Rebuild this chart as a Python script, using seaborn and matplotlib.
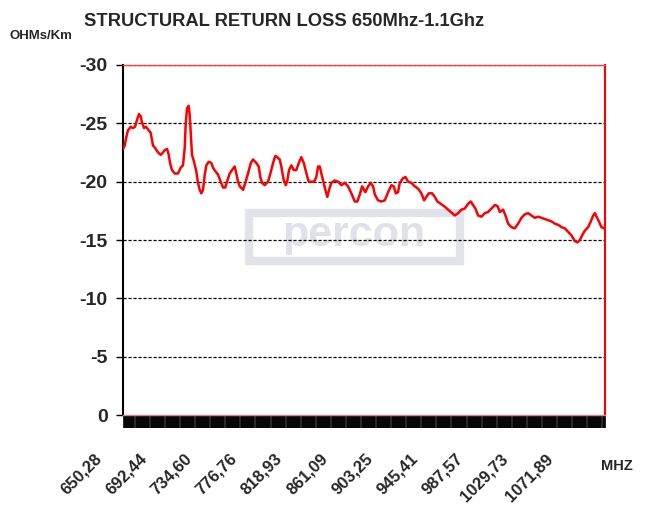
import matplotlib
matplotlib.use("Agg")
import matplotlib.pyplot as plt
import matplotlib.transforms as mtransforms
from matplotlib.patches import Rectangle
from matplotlib.ticker import MultipleLocator
import pandas as pd
import seaborn as sns

# frequency (MHz) and structural return loss
freq = [650.3, 651.9, 653.1, 654.9, 657.5, 659.6, 661.5, 663.4, 665.2, 666.8,
        668.0, 669.9, 671.8, 674.3, 676.1, 678.3, 680.2, 683.0, 685.5, 687.6,
        689.2, 691.4, 693.0, 694.2, 696.0, 698.6, 701.6, 704.2, 706.3, 707.9,
        708.8, 710.1, 711.6, 712.6, 713.5, 714.7, 716.6, 718.7, 720.3, 721.9,
        723.4, 725.0, 726.6, 728.1, 730.3, 732.8, 734.3, 736.5, 739.0, 741.5,
        743.7, 745.8, 747.7, 749.9, 752.1, 754.6, 756.1, 757.7, 759.3, 762.4,
        764.5, 767.0, 769.6, 771.7, 774.8, 777.0, 778.5, 780.1, 782.6, 785.7,
        787.9, 790.4, 792.5, 794.4, 796.6, 798.1, 800.4, 802.3, 803.7, 805.3,
        807.5, 809.7, 812.1, 814.4, 816.8, 819.1, 820.5, 822.4, 823.7, 826.2,
        828.7, 830.8, 832.4, 834.0, 835.5, 837.4, 839.2, 841.1, 842.7, 844.8,
        848.0, 851.1, 854.2, 857.4, 860.4, 863.5, 866.7, 869.1, 871.4, 873.5,
        876.6, 879.1, 881.6, 883.8, 885.4, 888.4, 891.5, 894.7, 897.8, 900.9,
        903.1, 905.0, 907.1, 908.7, 911.8, 914.0, 916.5, 919.5, 922.7, 925.8,
        928.9, 931.4, 933.6, 935.8, 938.9, 941.4, 943.8, 947.0, 950.1, 953.8,
        957.6, 960.1, 963.2, 966.2, 969.4, 972.5, 975.0, 977.2, 979.3, 981.8,
        985.0, 988.1, 991.2, 994.3, 997.5, 1000.0, 1002.1, 1005.2, 1007.4, 1009.9,
        1013.0, 1016.1, 1019.2, 1022.3, 1025.5, 1028.6, 1031.6, 1034.8, 1037.9, 1041.0,
        1044.2, 1047.2, 1050.3, 1053.5, 1056.6, 1059.7, 1062.8, 1065.9, 1069.0, 1072.2,
        1074.6, 1076.9, 1079.0, 1081.5, 1084.6, 1087.1, 1089.3, 1090.9, 1092.4, 1094.6,
        1097.0, 1099.5]

srl = [-22.8, -23.1, -23.7, -24.4, -24.7, -24.6, -24.7, -25.3, -25.8, -25.6,
       -25.1, -24.6, -24.7, -24.4, -24.2, -23.1, -22.9, -22.5, -22.3, -22.5,
       -22.7, -22.8, -22.3, -21.6, -21.0, -20.7, -20.7, -21.2, -21.4, -22.9,
       -24.9, -26.3, -26.5, -25.7, -24.3, -22.3, -21.7, -20.9, -19.9, -19.3,
       -19.0, -19.3, -20.6, -21.4, -21.7, -21.6, -21.2, -20.9, -20.6, -20.0,
       -19.5, -19.5, -20.1, -20.7, -21.0, -21.3, -20.7, -20.0, -19.6, -19.3,
       -19.9, -20.7, -21.6, -21.9, -21.6, -21.3, -20.4, -19.9, -19.7, -20.0,
       -20.7, -21.6, -22.2, -22.1, -21.9, -21.3, -20.1, -19.7, -20.1, -21.0,
       -21.4, -21.0, -21.0, -21.6, -22.1, -21.6, -21.1, -20.4, -20.0, -20.0,
       -20.0, -20.4, -21.3, -21.3, -20.7, -20.0, -19.3, -18.7, -19.3, -19.9,
       -20.1, -20.0, -19.7, -19.9, -19.6, -19.0, -18.3, -18.3, -18.9, -19.6,
       -19.1, -19.6, -19.9, -19.6, -18.9, -18.4, -18.3, -18.4, -19.1, -19.7,
       -19.6, -19.0, -19.1, -19.9, -20.3, -20.4, -20.0, -19.9, -19.6, -19.4,
       -19.0, -18.4, -18.7, -19.0, -19.0, -18.7, -18.3, -18.1, -17.9, -17.6,
       -17.3, -17.1, -17.3, -17.6, -17.7, -18.1, -18.3, -18.0, -17.7, -17.1,
       -17.0, -17.3, -17.4, -17.7, -18.0, -17.9, -17.4, -17.6, -17.1, -16.4,
       -16.1, -16.0, -16.4, -16.9, -17.2, -17.3, -17.1, -16.9, -17.0, -16.9,
       -16.8, -16.7, -16.6, -16.4, -16.3, -16.1, -16.0, -15.7, -15.4, -14.9,
       -14.8, -15.0, -15.4, -15.8, -16.1, -16.6, -17.1, -17.3, -17.0, -16.6,
       -16.1, -16.0]

tick_freqs = [650.28, 692.44, 734.60, 776.76, 818.93, 861.09,
              903.25, 945.41, 987.57, 1029.73, 1071.89]
tick_labels = ["650,28", "692,44", "734,60", "776,76", "818,93", "861,09",
               "903,25", "945,41", "987,57", "1029,73", "1071,89"]
y_ticks = [0, -5, -10, -15, -20, -25, -30]

df = pd.DataFrame({"MHz": freq, "SRL": srl})

sns.set_style("white")
plt.rcParams["font.family"] = ["Liberation Sans", "DejaVu Sans"]
plt.rcParams["axes.unicode_minus"] = False

fig = plt.figure(figsize=(6.46, 5.05), dpi=100)
ax = fig.add_axes([0.1904, 0.1782, 0.7461, 0.6931])

# faint "percon" watermark behind the data
ax.add_patch(Rectangle((0.262, 0.44), 0.438, 0.137, transform=ax.transAxes,
                       fc="white", ec="#e3e4ea", lw=6, zorder=0))
ax.text(0.478, 0.513, "percon", transform=ax.transAxes, ha="center", va="center",
        fontsize=31, fontweight="bold", color="#e1e2e9", zorder=0)

for yv in y_ticks[1:]:
    ax.axhline(yv, color="black", lw=0.9, ls=(0, (2.5, 1.5)), zorder=1)

sns.lineplot(data=df, x="MHz", y="SRL", color="#ff0000", lw=1.8, ax=ax, zorder=3)

ax.set_xlim(650.28, 1100.3)
ax.set_ylim(0, -30)
ax.set_yticks(y_ticks)
ax.set_yticklabels([str(v) for v in y_ticks])
ax.set_xticks(tick_freqs)
ax.set_xticklabels(tick_labels)
ax.xaxis.set_minor_locator(MultipleLocator(1))
ax.set_xlabel("")
ax.set_ylabel("")

ax.tick_params(axis="y", direction="out", length=5, width=1, color="black",
               pad=6, labelsize=14, left=True)
ax.tick_params(axis="x", which="major", length=0, pad=26, labelsize=12)
ax.tick_params(axis="x", which="minor", direction="out", length=9, width=1.2,
               color="black", bottom=True)
for lab in ax.get_yticklabels():
    lab.set_fontweight("bold")
offset = mtransforms.ScaledTranslation(-0.29, 0, fig.dpi_scale_trans)
for lab in ax.get_xticklabels():
    lab.set_fontweight("bold")
    lab.set_rotation(45)
    lab.set_rotation_mode("anchor")
    lab.set_ha("right")
    lab.set_va("top")
    lab.set_transform(lab.get_transform() + offset)

ax.spines["left"].set_color("black")
ax.spines["left"].set_linewidth(1.5)
ax.spines["right"].set_color("#ff0000")
ax.spines["right"].set_linewidth(1.5)
ax.spines["top"].set_color("#ff4040")
ax.spines["top"].set_linewidth(1)
ax.spines["bottom"].set_color("#e08080")
ax.spines["bottom"].set_linewidth(1)

fig.text(284 / 646, 1 - 21 / 505, "STRUCTURAL RETURN LOSS 650Mhz-1.1Ghz",
         ha="center", va="center", fontsize=13.2, fontweight="bold")
fig.text(10 / 646, 1 - 36 / 505, "OHMs/Km", ha="left", va="center",
         fontsize=9.5, fontweight="bold")
fig.text(617 / 646, 1 - 466 / 505, "MHZ", ha="center", va="center",
         fontsize=10.5, fontweight="bold")

fig.savefig("out.png", dpi=100)
